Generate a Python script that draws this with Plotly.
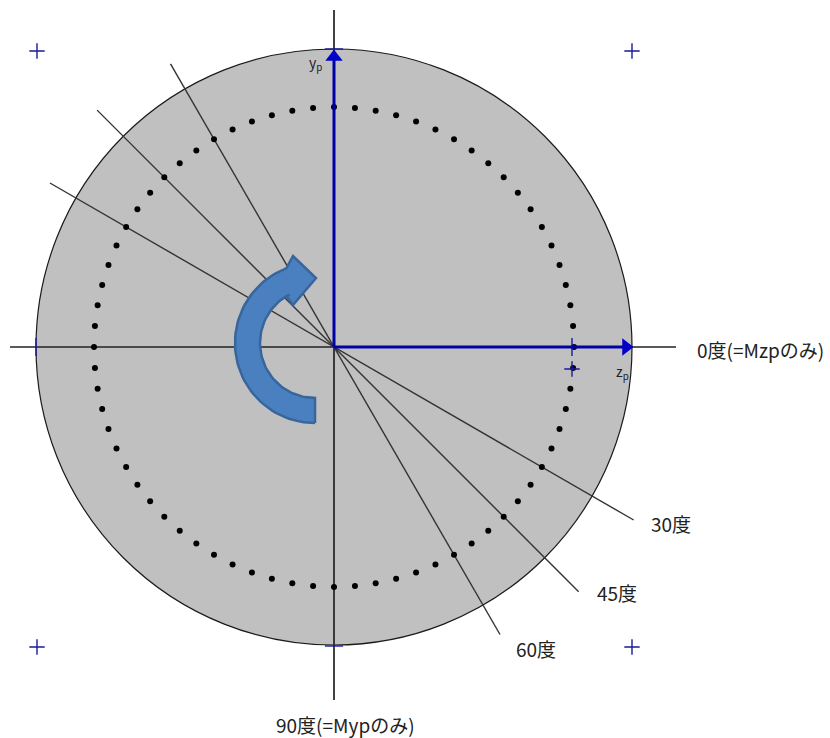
import numpy as np
import plotly.graph_objects as go

# Geometry in picture units, origin at the section centre, y upward
section_radius = 298
bolt_circle_radius = 240
dot_angles = [0, 5, 10, 15, 20, 25, 30, 35, 40, 45, 50, 55, 60, 65, 70, 75, 80, 85,
              90, 95, 100, 105, 110, 115, 120, 125, 130, 135, 140, 145, 150, 155, 160, 165, 170, 175,
              180, 185, 190, 195, 200, 205, 210, 215, 220, 225, 230, 235, 240, 245, 250, 255, 260, 265,
              270, 275, 280, 285, 290, 295, 300, 305, 310, 315, 320, 325, 330, 335, 340, 345, 350, 355]
neutral_angles = [30, 45, 60]
neutral_labels = ["30度", "45度", "60度"]
neutral_label_x = [336.5, 283, 202]
neutral_label_y = [-176, -245, -301]
neutral_extent = [346, 346, 332]
neutral_extent_back = [328, 335, 327]
axis_h_x = [-324, 342]
axis_v_y = [337, -353]
cross_x = [-297, 298, -297, 298, 238]
cross_y = [296, 296, -300, -300, -22]
z_axis_x = [0, 294]
y_axis_y = [0, 287]

dots_x = [bolt_circle_radius * np.cos(np.radians(a)) for a in dot_angles]
dots_y = [bolt_circle_radius * np.sin(np.radians(a)) for a in dot_angles]

fig = go.Figure()
fig.add_shape(type="circle", xref="x", yref="y",
              x0=-section_radius, x1=section_radius, y0=-section_radius, y1=section_radius,
              fillcolor="#C0C0C0", line=dict(color="#1a1a1a", width=1.2), layer="below")


def line(xs, ys, color="#333333", width=1.4):
    fig.add_trace(go.Scatter(x=xs, y=ys, mode="lines", line=dict(color=color, width=width),
                             hoverinfo="skip", showlegend=False))


line(axis_h_x, [0, 0], "#222222", 1.7)
line([0, 0], axis_v_y, "#222222", 1.7)
for a, e, b in zip(neutral_angles, neutral_extent, neutral_extent_back):
    c, s = np.cos(np.radians(a)), np.sin(np.radians(a))
    line([-b * c, e * c], [b * s, -e * s])

fig.add_trace(go.Scatter(x=dots_x, y=dots_y, mode="markers",
                         marker=dict(color="#000000", size=6), hoverinfo="skip", showlegend=False))
fig.add_trace(go.Scatter(x=cross_x, y=cross_y, mode="markers",
                         marker=dict(symbol="cross-thin", size=11, line=dict(color="#1a1a9c", width=1.4)),
                         hoverinfo="skip", showlegend=False))
fig.add_trace(go.Scatter(x=[-298, 0, 238, 0], y=[0, -299, 0, 298], mode="markers",
                         marker=dict(symbol=["line-ns", "line-ew", "line-ns", "line-ew"], size=13,
                                     line=dict(color="#1a1a9c", width=1.4)),
                         hoverinfo="skip", showlegend=False))

# blue section axes with arrow heads
line(z_axis_x, [0, 0], "#0000A8", 3)
line([0, 0], y_axis_y, "#0000A8", 3)
fig.add_trace(go.Scatter(x=[292], y=[0], mode="markers",
                         marker=dict(symbol="triangle-right", size=15, color="#0000C8"),
                         hoverinfo="skip", showlegend=False))
fig.add_trace(go.Scatter(x=[0], y=[290], mode="markers",
                         marker=dict(symbol="triangle-up", size=15, color="#0000C8"),
                         hoverinfo="skip", showlegend=False))

# curved block arrow
cx, cy = -19, 4
outer = [(cx + 80 * np.cos(v), cy + 80 * np.sin(v)) for v in np.radians(np.linspace(270, 111, 60))]
inner = [(cx + 55 * np.cos(v), cy + 55 * np.sin(v)) for v in np.radians(np.linspace(118, 270, 60))]
head = [(-41, 91), (-18, 69), (-41, 42), (-47, 50)]
pts = outer + head + inner + [outer[0]]
fig.add_trace(go.Scatter(x=[p[0] for p in pts], y=[p[1] for p in pts], mode="lines", fill="toself",
                         fillcolor="#4A80C0", line=dict(color="#38659B", width=2.5),
                         hoverinfo="skip", showlegend=False))

ann = dict(xref="x", yref="y", showarrow=False,
           font=dict(family="Noto Sans CJK JP", size=19, color="#222222"))
for txt, x, y in zip(neutral_labels, neutral_label_x, neutral_label_y):
    fig.add_annotation(text=txt, x=x, y=y, **ann)
fig.add_annotation(text="0度(=Mzpのみ)", x=426, y=-2, **ann)
fig.add_annotation(text="90度(=Mypのみ)", x=11.5, y=-377, **ann)
ann["font"] = dict(family="Noto Sans CJK JP", size=14, color="#222222")
fig.add_annotation(text="y<sub>p</sub>", x=-19, y=284, **ann)
fig.add_annotation(text="z<sub>p</sub>", x=288, y=-25, **ann)

fig.update_layout(width=830, height=738, margin=dict(l=0, r=0, t=0, b=0),
                  paper_bgcolor="white", plot_bgcolor="white", showlegend=False)
fig.update_xaxes(range=[-334, 496], visible=False)
fig.update_yaxes(range=[-391, 347], visible=False)
fig.write_html("out.html", config={"displayModeBar": False},
               post_script="document.body.style.margin='0';")
